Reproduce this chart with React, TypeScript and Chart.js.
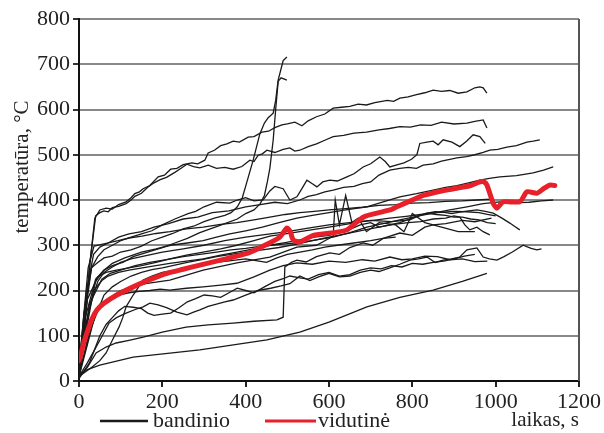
import React, { useEffect, useRef } from "react";
import { Chart, registerables } from "chart.js";

Chart.register(...registerables);

type Pair = [number, number];

const xTicks = [0, 200, 400, 600, 800, 1000, 1200];
const yTicks = [0, 100, 200, 300, 400, 500, 600, 700, 800];

const legendLabels = ["bandinio", "vidutinė"];
const xTitle = "laikas, s";
const yTitle = "temperatūra, °C";

const average: Pair[] = [[0,45],[5,60],[10,80],[19,106],[30,135],[43,157],[60,172],[91,190],[130,208],[170,224],[211,238],[250,247],[290,256],[330,265],[370,274],[410,284],[451,302],[482,318],[499,338],[507,330],[514,312],[530,307],[562,322],[619,329],[643,334],[665,350],[682,362],[698,367],[746,378],[763,385],[800,400],[826,410],[870,420],[907,426],[940,432],[962,440],[972,440],[979,433],[994,393],[1003,382],[1018,396],[1058,396],[1075,418],[1099,415],[1115,425],[1130,433],[1142,432]];

const s01: Pair[] = [[0,22],[12,100],[25,250],[38,360],[50,378],[65,382],[80,380],[95,390],[113,396],[125,405],[134,414],[145,418],[154,425],[170,432],[190,451],[205,455],[220,468],[235,470],[250,478],[271,482],[285,480],[302,488],[310,504],[325,510],[340,520],[355,524],[370,530],[385,528],[406,539],[420,540],[439,550],[455,552],[470,560],[487,566],[500,568],[518,572],[535,564],[550,575],[570,584],[590,590],[610,603],[630,605],[650,607],[670,612],[690,610],[710,615],[740,620],[755,618],[770,625],[790,628],[810,633],[830,637],[850,643],[870,640],[890,642],[910,636],[931,639],[950,648],[962,650],[970,648],[979,636]];
const s02: Pair[] = [[0,18],[12,95],[26,260],[40,365],[50,372],[60,376],[70,374],[80,383],[95,386],[113,392],[125,400],[134,408],[150,415],[165,428],[180,438],[195,445],[210,450],[230,461],[245,470],[259,479],[275,474],[290,471],[310,477],[330,470],[350,472],[370,468],[391,474],[410,488],[420,485],[430,499],[440,502],[451,510],[470,505],[490,512],[506,515],[518,508],[530,510],[550,518],[570,524],[590,532],[610,540],[635,543],[660,548],[690,550],[720,555],[745,558],[770,562],[795,561],[820,566],[845,565],[870,572],[900,568],[931,570],[950,574],[970,577],[979,559]];
const s03: Pair[] = [[0,30],[12,150],[30,250],[45,262],[60,272],[80,276],[100,285],[125,290],[150,298],[175,310],[200,318],[225,326],[250,336],[275,342],[300,352],[325,360],[350,366],[365,372],[380,385],[392,405],[403,440],[418,488],[434,546],[445,570],[454,582],[466,592],[472,620],[478,665],[485,690],[490,708],[499,716]];
const s04: Pair[] = [[0,25],[15,140],[40,225],[60,245],[80,255],[105,262],[130,275],[165,285],[200,295],[230,305],[260,315],[290,328],[320,338],[350,348],[380,358],[400,370],[420,378],[435,392],[445,410],[452,440],[458,470],[466,532],[472,600],[478,662],[485,670],[499,665]];
const s05: Pair[] = [[0,30],[18,200],[35,280],[50,296],[70,305],[95,318],[120,325],[150,330],[180,340],[215,348],[250,358],[285,362],[320,372],[360,376],[400,385],[435,390],[470,395],[500,392],[530,400],[550,408],[570,412],[590,418],[610,422],[635,428],[660,430],[680,436],[700,440],[720,455],[746,466],[770,470],[790,472],[810,470],[826,477],[850,480],[870,486],[890,490],[907,493],[930,496],[950,500],[970,505],[986,510],[1005,512],[1027,517],[1050,520],[1075,528],[1090,530],[1106,533]];
const s06: Pair[] = [[0,20],[15,150],[30,250],[45,275],[60,290],[80,300],[100,310],[125,318],[150,325],[175,332],[200,345],[230,358],[262,370],[280,375],[300,385],[330,395],[362,393],[380,400],[400,405],[420,398],[442,400],[458,420],[470,430],[490,425],[506,400],[523,407],[535,425],[547,444],[560,436],[571,429],[585,440],[602,444],[620,442],[643,451],[660,458],[682,473],[700,480],[722,495],[735,485],[746,473],[765,478],[780,482],[798,490],[811,500],[818,525],[835,528],[850,530],[862,522],[874,533],[895,528],[914,518],[930,530],[946,544],[962,540],[975,525]];
const s07: Pair[] = [[0,15],[18,130],[40,220],[60,245],[80,260],[110,272],[150,285],[185,292],[220,300],[260,305],[298,310],[330,318],[362,325],[400,332],[440,340],[480,350],[523,360],[560,366],[600,372],[640,378],[691,385],[730,396],[770,407],[810,414],[850,422],[880,428],[907,432],[935,438],[962,444],[985,448],[1010,451],[1050,454],[1090,460],[1115,466],[1138,473]];
const s08: Pair[] = [[0,20],[25,170],[55,225],[75,238],[100,245],[135,255],[170,262],[210,268],[250,275],[290,280],[330,285],[365,290],[400,293],[430,297],[460,300],[495,303],[530,306],[570,312],[610,318],[650,328],[691,340],[730,348],[770,356],[810,364],[850,371],[890,378],[931,385],[970,392],[1010,396],[1045,394],[1080,395],[1110,398],[1138,400]];
const s09: Pair[] = [[0,20],[25,160],[45,220],[60,240],[80,252],[100,262],[125,270],[150,275],[175,280],[200,285],[250,292],[300,300],[350,310],[400,318],[450,324],[500,330],[550,338],[600,345],[650,350],[700,355],[750,352],[794,356],[815,365],[835,371],[855,374],[874,373],[894,370],[914,373],[935,376],[955,378],[975,375],[994,371],[1015,360],[1034,349],[1045,342],[1058,334]];
const s10: Pair[] = [[0,15],[30,120],[60,190],[80,208],[100,220],[125,232],[150,240],[175,246],[200,250],[230,256],[260,262],[295,268],[330,275],[365,280],[400,285],[440,290],[480,295],[520,302],[560,310],[600,318],[640,325],[680,333],[720,340],[755,346],[790,350],[820,352],[850,358],[880,360],[900,365],[914,362],[926,345],[938,334],[955,340],[970,330],[986,323]];
const s11: Pair[] = [[0,10],[20,40],[35,65],[50,90],[72,128],[90,140],[113,150],[135,158],[154,164],[170,172],[190,168],[210,162],[235,152],[259,146],[275,152],[290,157],[310,165],[330,170],[350,175],[370,179],[400,190],[430,200],[460,205],[485,210],[506,215],[520,225],[530,232],[554,222],[575,230],[600,238],[625,230],[650,232],[675,240],[700,245],[720,242],[746,250],[770,258],[794,267],[815,270],[835,274],[855,262],[874,267],[894,270],[914,274],[931,290],[955,294],[970,274],[985,270],[1003,267],[1020,275],[1040,285],[1066,300],[1085,293],[1099,290],[1110,292]];
const s12: Pair[] = [[0,15],[20,25],[50,35],[130,53],[290,69],[451,91],[530,108],[600,130],[691,164],[770,185],[850,201],[920,220],[979,238]];
const s13: Pair[] = [[0,10],[20,30],[41,62],[65,75],[89,84],[120,90],[154,97],[200,108],[257,119],[310,124],[370,128],[420,132],[475,135],[490,141],[494,252],[510,262],[523,267],[545,263],[570,275],[602,283],[625,280],[650,295],[682,305],[705,300],[730,315],[770,327],[800,322],[830,340],[850,345],[880,348],[920,355],[950,352],[990,360]];
const s14: Pair[] = [[0,20],[10,130],[22,250],[36,298],[60,303],[94,310],[120,316],[151,320],[185,326],[218,330],[258,336],[298,340],[340,346],[379,350],[420,356],[458,362],[495,368],[530,372],[565,375],[600,378],[640,381],[680,384],[720,388],[760,390],[800,393],[840,394],[880,397],[920,398],[955,400],[990,402]];
const s15: Pair[] = [[0,15],[15,100],[35,200],[55,222],[70,232],[95,240],[120,245],[170,253],[218,260],[258,265],[298,270],[340,278],[379,285],[420,292],[458,300],[495,306],[530,312],[565,318],[600,322],[625,328],[650,335],[675,345],[700,350],[720,340],[746,345],[770,350],[794,358],[815,365],[835,371],[858,368],[880,366],[900,362],[920,362],[940,358],[960,356],[980,350],[1000,348]];
const s16: Pair[] = [[0,10],[20,80],[40,150],[55,168],[70,180],[95,190],[120,195],[145,198],[170,200],[195,203],[218,201],[258,205],[298,208],[340,212],[379,216],[420,230],[458,245],[490,255],[523,261],[560,258],[600,265],[640,262],[680,268],[710,265],[746,274],[775,268],[800,270],[830,276],[860,275],[890,268],[920,270],[950,264],[980,265]];
const s17: Pair[] = [[0,10],[25,110],[50,170],[100,200],[160,215],[218,223],[298,245],[379,261],[458,274],[523,296],[570,300],[610,320],[615,400],[625,345],[640,410],[655,350],[670,360],[690,330],[720,350],[760,345],[780,330],[800,370],[830,350],[870,340],[910,330],[950,330]];
const s18: Pair[] = [[0,5],[25,40],[50,100],[65,125],[80,140],[95,155],[110,165],[130,163],[150,160],[165,150],[180,145],[200,148],[220,150],[240,162],[260,175],[280,182],[300,190],[320,188],[340,185],[360,195],[380,205],[400,200],[420,195],[445,208],[470,220],[490,226],[506,232],[530,228],[550,225],[575,235],[600,240],[625,232],[650,235],[675,245],[700,250],[725,248],[750,255],[775,252],[800,260],[825,258],[850,262],[875,265],[900,270],[925,276],[950,280]];
const s19: Pair[] = [[0,20],[20,180],[45,230],[65,240],[90,245],[120,250],[150,255],[185,262],[218,270],[258,278],[298,285],[340,292],[379,300],[420,310],[458,320],[495,325],[530,330],[565,335],[600,340],[640,346],[680,352],[715,356],[746,360],[785,364],[820,368],[860,372],[900,375],[930,374],[960,372],[980,368],[1000,365]];
const s20: Pair[] = [[0,10],[30,30],[50,45],[65,62],[80,90],[96,119],[105,140],[113,164],[130,190],[154,223],[175,232],[200,240],[230,245],[260,250],[295,256],[330,262],[365,266],[400,270],[425,266],[450,262],[475,272],[500,280],[530,285],[560,290],[590,296],[620,300],[660,305],[700,310],[730,315],[760,318]];

const samples: Pair[][] = [s01,s02,s03,s04,s05,s06,s07,s08,s09,s10,s11,s12,s13,s14,s15,s16,s17,s18,s19,s20];

const SERIF = "'Liberation Serif', 'Times New Roman', serif";

export default function App() {
  const ref = useRef<HTMLCanvasElement | null>(null);
  useEffect(() => {
    const canvas = ref.current;
    if (!canvas) return;
    const toXY = (p: Pair[]) => p.map(([x, y]) => ({ x, y }));
    const datasets: any[] = [
      {
        label: legendLabels[1],
        data: toXY(average),
        borderColor: "#e8202a",
        borderWidth: 5,
        pointRadius: 0,
        tension: 0.2,
        borderJoinStyle: "round",
        borderCapStyle: "round",
      },
      ...samples.map((s, i) => ({
        label: i === 0 ? legendLabels[0] : "_" + i,
        data: toXY(s),
        borderColor: "#1a1a1a",
        borderWidth: 1.3,
        pointRadius: 0,
        tension: 0,
      })),
    ];

    const decor = {
      id: "decor",
      afterDraw(chart: any) {
        const { ctx, chartArea } = chart;
        ctx.save();
        ctx.strokeStyle = "#555";
        ctx.lineWidth = 2;
        ctx.beginPath();
        ctx.moveTo(chartArea.right, chartArea.top);
        ctx.lineTo(chartArea.right, chartArea.bottom);
        ctx.stroke();
        ctx.fillStyle = "#222";
        ctx.font = "21px " + SERIF;
        ctx.textAlign = "center";
        ctx.textBaseline = "middle";
        ctx.translate(22, 167);
        ctx.rotate(-Math.PI / 2);
        ctx.fillText(yTitle, 0, 0);
        ctx.restore();
        ctx.save();
        const ly = 421;
        ctx.lineWidth = 2.5;
        ctx.strokeStyle = "#1a1a1a";
        ctx.beginPath();
        ctx.moveTo(100, ly);
        ctx.lineTo(148, ly);
        ctx.stroke();
        ctx.strokeStyle = "#e8202a";
        ctx.lineWidth = 3;
        ctx.beginPath();
        ctx.moveTo(265, ly);
        ctx.lineTo(316, ly);
        ctx.stroke();
        ctx.fillStyle = "#222";
        ctx.font = "22px " + SERIF;
        ctx.textAlign = "left";
        ctx.textBaseline = "middle";
        ctx.fillText(legendLabels[0], 153, ly);
        ctx.fillText(legendLabels[1], 318, ly);
        ctx.restore();
      },
    };

    const chart = new Chart(canvas, {
      type: "line",
      data: { datasets },
      options: {
        animation: false,
        responsive: false,
        layout: { padding: { left: 0, right: 25, top: 19, bottom: 0 } },
        plugins: { legend: { display: false }, tooltip: { enabled: false } },
        scales: {
          x: {
            type: "linear",
            min: 0,
            max: 1200,
            afterBuildTicks: (s: any) => { s.ticks = xTicks.map((v) => ({ value: v })); },
            afterFit: (s: any) => { s.height = 52; },
            ticks: { color: "#222", font: { family: SERIF, size: 22 }, padding: 2, maxRotation: 0, callback: (v: any) => String(v) },
            grid: { drawOnChartArea: false, drawTicks: true, tickLength: 6, tickColor: "#222", lineWidth: 2 },
            border: { color: "#111", width: 2 },
            title: { display: true, text: xTitle, align: "end", color: "#222", font: { family: SERIF, size: 21 }, padding: 0 },
          },
          y: {
            type: "linear",
            min: 0,
            max: 800,
            afterBuildTicks: (s: any) => { s.ticks = yTicks.map((v) => ({ value: v })); },
            afterFit: (s: any) => { s.width = 79; },
            ticks: { color: "#222", font: { family: SERIF, size: 22 }, padding: 3, callback: (v: any) => String(v) },
            grid: { color: "#888", lineWidth: 2, tickLength: 6, tickColor: "#333" },
            border: { color: "#111", width: 2 },
          },
        },
      } as any,
      plugins: [decor],
    });
    return () => chart.destroy();
  }, []);
  return (
    <div style={{ position: "absolute", left: 0, top: 0, width: 604, height: 433, background: "#fff" }}>
      <canvas ref={ref} width={604} height={433} style={{ display: "block" }} />
    </div>
  );
}
